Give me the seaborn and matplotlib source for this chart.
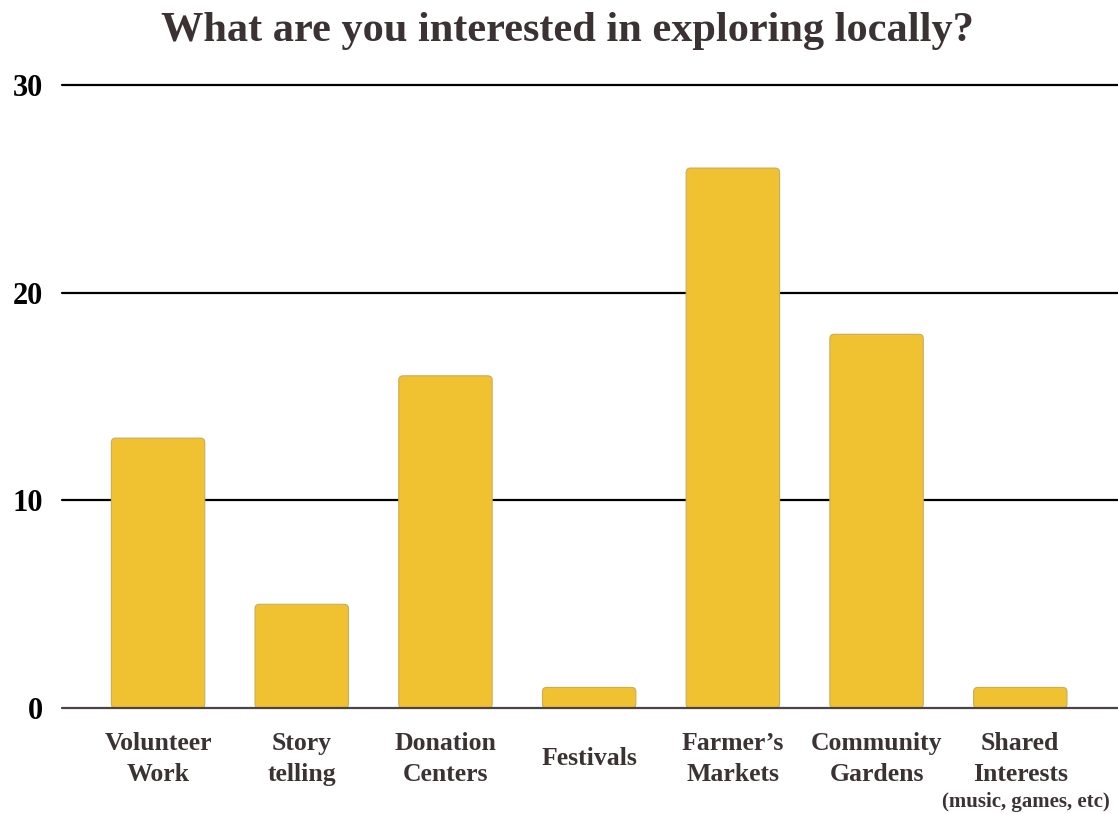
import matplotlib
matplotlib.use("Agg")
import matplotlib.pyplot as plt
from matplotlib.patches import FancyBboxPatch
import seaborn as sns
import pandas as pd

categories = ["Volunteer\nWork", "Story\ntelling", "Donation\nCenters", "Festivals",
              "Farmer\u2019s\nMarkets", "Community\nGardens", "Shared\nInterests"]
counts = [13, 5, 16, 1, 26, 18, 1]
y_ticks = [0, 10, 20, 30]
title = "What are you interested in exploring locally?"
footnote = "(music, games, etc)"

sns.set_theme(style="white")
plt.rcParams["font.family"] = ["Liberation Serif", "DejaVu Serif"]

text_col = "#3b3333"
bar_col = "#f0c232"

df = pd.DataFrame({"category": categories, "count": counts})

fig = plt.figure(figsize=(11.18, 8.14), dpi=100)
ax = fig.add_axes([0.0555, 0.130, 0.9445, 0.7656])

sns.barplot(data=df, x="category", y="count", color=bar_col, saturation=1,
            width=0.65, edgecolor="#c8ad5a", linewidth=0.8, ax=ax, zorder=3)

# swap the square bars for slightly rounded ones (same geometry)
for p in list(ax.patches):
    rb = FancyBboxPatch((p.get_x(), p.get_y()), p.get_width(), p.get_height(),
                        boxstyle="round,pad=0,rounding_size=0.03", mutation_aspect=6.92,
                        facecolor=bar_col, edgecolor="#c8ad5a", linewidth=0.8, zorder=3)
    ax.add_patch(rb)
    p.remove()

# horizontal rules instead of a frame
for v in y_ticks[1:]:
    ax.axhline(v, color="black", linewidth=1.6, zorder=1, clip_on=False)
ax.axhline(0, color="#4a4444", linewidth=1.6, zorder=4, clip_on=False)

ax.set_xlim(-0.668, 6.68)
ax.set_ylim(0, 30)
ax.set_yticks(y_ticks)
ax.set_yticklabels([str(v) for v in y_ticks], fontsize=22, fontweight="bold", color="black")
ax.set_xlabel("")
ax.set_ylabel("")
for s in ax.spines.values():
    s.set_visible(False)
ax.tick_params(axis="y", length=0, pad=14)
ax.tick_params(axis="x", length=0, pad=36.5)
for lbl in ax.get_xticklabels():
    lbl.set_fontsize(18.5)
    lbl.set_fontweight("bold")
    lbl.set_color(text_col)
    lbl.set_va("center")
    lbl.set_linespacing(1.42)

ax.text(6.04, -4.5, footnote, ha="center", va="center", fontsize=15,
        fontweight="bold", color=text_col, clip_on=False)

fig.text(567 / 1118, 1 - 31 / 814, title, ha="center", va="center",
         fontsize=30.5, fontweight="bold", color=text_col)

fig.savefig("out.png", dpi=100)
